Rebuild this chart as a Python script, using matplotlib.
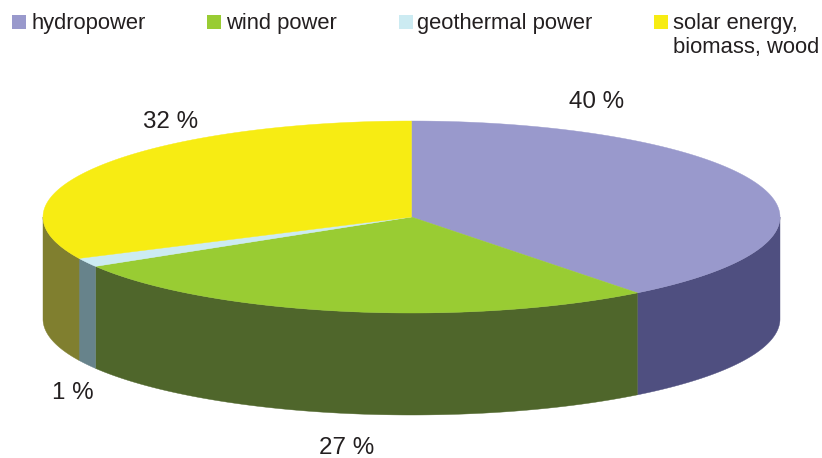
import numpy as np
import matplotlib
matplotlib.use("Agg")
import matplotlib.pyplot as plt
from matplotlib.patches import Polygon, Rectangle

categories = ["hydropower", "wind power", "geothermal power", "solar energy,\nbiomass, wood"]
shares = [39.5, 26.9, 1.5, 32.1]            # slice sizes
pct_labels = ["40 %", "27 %", "1 %", "32 %"]
top_colors = ["#9999CC", "#99CC33", "#CCEBF2", "#F7EC13"]
side_colors = ["#4F4F80", "#4F662B", "#67838B", "#807F2F"]

W, H = 822, 458
CX, CY, RX, RY, DEPTH = 411.5, 217, 368.5, 96, 102
FONT = ["Liberation Sans", "DejaVu Sans"]
TEXT = "#231F20"

fig = plt.figure(figsize=(W / 100, H / 100), dpi=100)
ax = fig.add_axes([0, 0, 1, 1])
ax.set_xlim(0, W)
ax.set_ylim(H, 0)
ax.axis("off")


def rim(a0, a1, dy=0.0):
    t = np.radians(np.linspace(a0, a1, max(2, int(abs(a1 - a0) * 4))))
    return np.column_stack([CX + RX * np.sin(t), CY + dy + RY * -np.cos(t)])


edges = np.concatenate([[0], np.cumsum(shares)]) / sum(shares) * 360

# side wall: visible between 90 and 270 degrees clockwise from the top
for a0, a1, c in zip(edges[:-1], edges[1:], side_colors):
    lo, hi = max(a0, 90), min(a1, 270)
    if hi > lo:
        pts = np.vstack([rim(lo, hi), rim(lo, hi, DEPTH)[::-1]])
        ax.add_patch(Polygon(pts, closed=True, fc=c, ec=c, lw=0.3))

# top face
for a0, a1, c in zip(edges[:-1], edges[1:], top_colors):
    pts = np.vstack([[[CX, CY]], rim(a0, a1)])
    ax.add_patch(Polygon(pts, closed=True, fc=c, ec=c, lw=0.3))

# legend
legend_x = [12, 207, 399, 654]
for x, c in zip(legend_x, top_colors):
    ax.add_patch(Rectangle((x, 15), 14, 14, fc=c, ec="none"))
legend_text_x = [31, 226, 417, 673]
for x, name in zip(legend_text_x, categories):
    ax.text(x, 13, name, fontsize=15.8, family=FONT, color=TEXT, va="top", ha="left", linespacing=1.2)

# percent labels
label_xy = [(597, 102), (347, 448), (73, 393), (171, 122)]
for (x, y), s in zip(label_xy, pct_labels):
    ax.text(x, y, s, fontsize=17.4, family=FONT, color=TEXT, ha="center", va="center")

fig.savefig("out.png", dpi=100)
